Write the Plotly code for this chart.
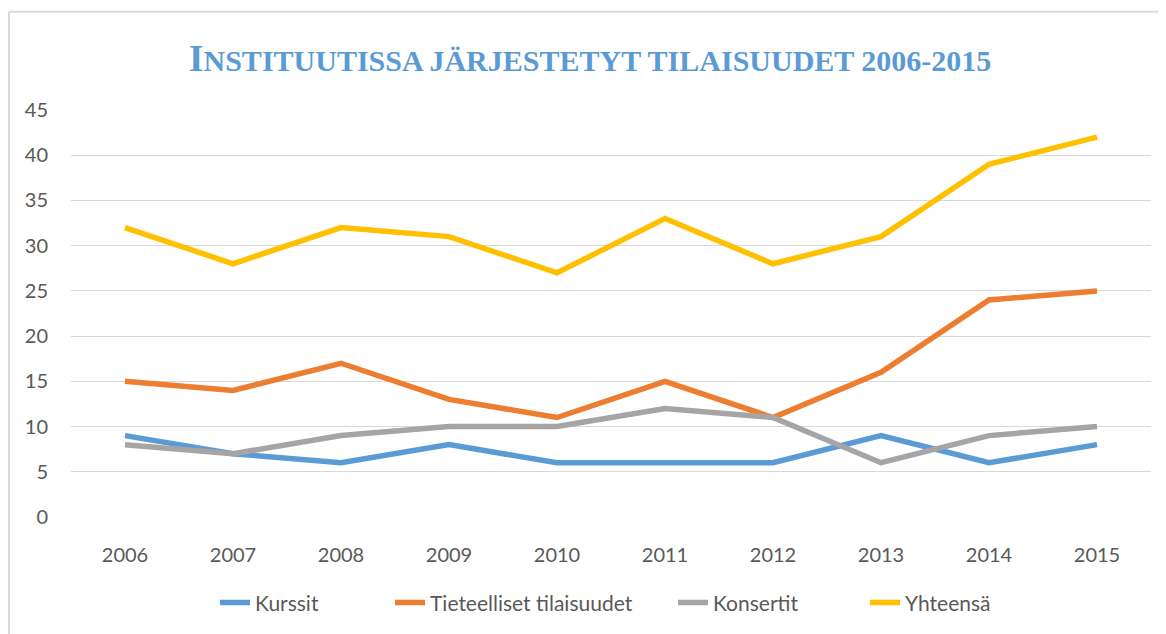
import plotly.graph_objects as go

years = ["2006", "2007", "2008", "2009", "2010", "2011", "2012", "2013", "2014", "2015"]
kurssit = [9, 7, 6, 8, 6, 6, 6, 9, 6, 8]
tieteelliset = [15, 14, 17, 13, 11, 15, 11, 16, 24, 25]
konsertit = [8, 7, 9, 10, 10, 12, 11, 6, 9, 10]
yhteensa = [32, 28, 32, 31, 27, 33, 28, 31, 39, 42]

series = [
    ("Kurssit", kurssit, "#5B9BD5"),
    ("Tieteelliset tilaisuudet", tieteelliset, "#ED7D31"),
    ("Konsertit", konsertit, "#A5A5A5"),
    ("Yhteensä", yhteensa, "#FFC000"),
]
legend_ids = ["legend", "legend2", "legend3", "legend4"]
# page x where each legend text starts
legend_text_x = [255, 430, 713, 905]

L, T, PW = 63, 102, 1080

fig = go.Figure()
for (name, vals, col), lid in zip(series, legend_ids):
    fig.add_trace(go.Scatter(x=years, y=vals, name=name, mode="lines", legend=lid,
                             line=dict(color=col, width=5.5)))

sc = "font-size:30px"
title = ("I<span style='%s'>NSTITUUTISSA JÄRJESTETYT TILAISUUDET 2006-2015</span>" % sc)

legends = {}
for lid, px in zip(legend_ids, legend_text_x):
    legends[lid] = dict(orientation="h", x=(px - 8 - L - 40) / PW, xanchor="left",
                        y=-0.208, yanchor="middle", font=dict(size=21, color="#595959"),
                        bgcolor="rgba(0,0,0,0)")

# page has an 8px body margin, so the figure is drawn from (8, 8)
fig.update_layout(
    width=1158, height=626,
    margin=dict(l=L, r=15, t=T, b=116),
    paper_bgcolor="white", plot_bgcolor="white",
    title=dict(text="<b>" + title + "</b>", x=0.5026, xanchor="center", y=0.92, yanchor="middle",
               font=dict(family="Liberation Serif", size=38, color="#5B9BD5")),
    font=dict(family="Lato", size=20, color="#595959"),
    xaxis=dict(type="category", range=[-0.5, 9.5], showgrid=False, zeroline=False, showline=False,
               ticks="outside", ticklen=20, tickcolor="rgba(0,0,0,0)",
               tickfont=dict(size=20, color="#595959")),
    yaxis=dict(range=[0, 45], dtick=5, showgrid=True, gridcolor="#D9D9D9", gridwidth=1,
               zeroline=False, showline=False,
               ticks="outside", ticklen=18, tickcolor="rgba(0,0,0,0)",
               tickfont=dict(size=20, color="#595959")),
    showlegend=True,
    **legends,
)
top_y = 1 + (T - 3.5) / 408
fig.add_shape(type="line", xref="paper", yref="paper", x0=-0.0574, x1=-0.0574, y0=-0.5, y1=top_y,
              line=dict(color="#D9D9D9", width=2))
fig.add_shape(type="line", xref="paper", yref="paper", x0=-0.0574, x1=1.5, y0=top_y, y1=top_y,
              line=dict(color="#D9D9D9", width=2))

fig.write_html("out.html")
